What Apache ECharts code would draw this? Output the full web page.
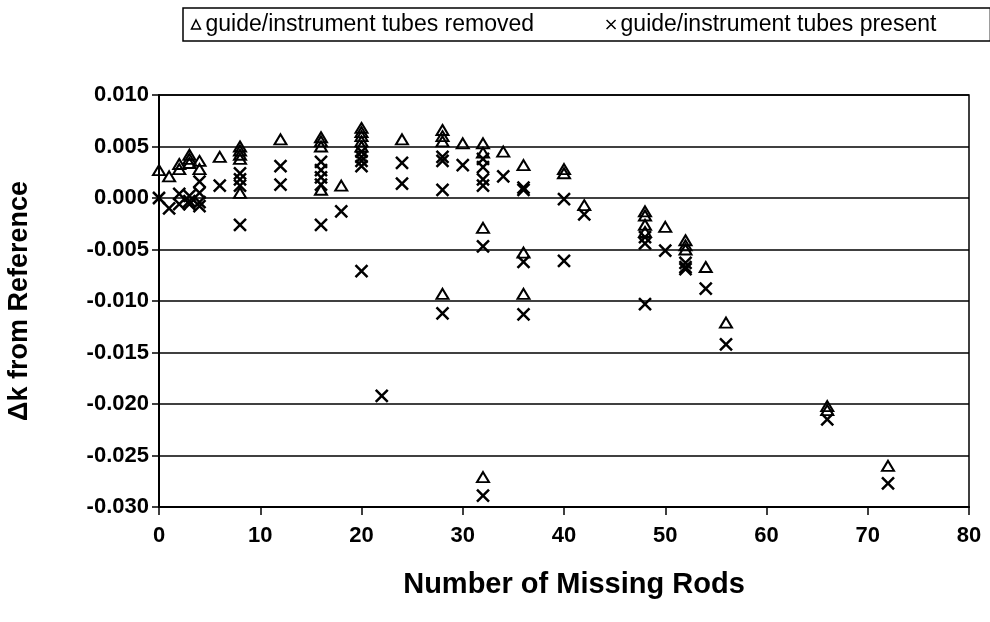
<!DOCTYPE html>
<html>
<head>
<meta charset="utf-8">
<script src="https://cdn.jsdelivr.net/npm/echarts@6/dist/echarts.min.js"></script>
<style>
  html, body { margin: 0; padding: 0; background: #fff; }
  #chart { width: 990px; height: 622px; }
</style>
</head>
<body>
<div id="chart"></div>
<script>
// guide/instrument tubes removed (triangles)
const removedRods = [0, 1, 2, 2, 3, 3, 3, 4, 4, 6,
  8, 8, 8, 8, 8, 12, 16, 16, 16, 16, 18,
  20, 20, 20, 20, 20, 24, 28, 28, 28, 28, 30,
  32, 32, 32, 32, 34, 36, 36, 36, 40, 40, 42,
  48, 48, 48, 48, 50, 52, 52, 52, 54, 56, 66, 66, 72];
const removedDk = [0.0027, 0.0021, 0.0033, 0.0028, 0.0042, 0.0038, 0.0034, 0.0036, 0.0028, 0.0040,
  0.0050, 0.0046, 0.0042, 0.0038, 0.0005, 0.0057, 0.0059, 0.0055, 0.0050, 0.0008, 0.0012,
  0.0068, 0.0064, 0.0060, 0.0055, 0.0050, 0.0057, 0.0066, 0.0060, 0.0055, -0.0093, 0.0053,
  0.0053, 0.0044, -0.0029, -0.0271, 0.0045, 0.0032, -0.0053, -0.0093, 0.0028, 0.0024, -0.0007,
  -0.0013, -0.0017, -0.0026, -0.0033, -0.0028, -0.0041, -0.0046, -0.0050, -0.0067, -0.0121, -0.0202, -0.0206, -0.0260];

// guide/instrument tubes present (crosses)
const presentRods = [0, 1, 2, 2, 3, 3, 3, 4, 4, 4, 4, 6,
  8, 8, 8, 8, 12, 12, 16, 16, 16, 16, 16, 18,
  20, 20, 20, 20, 20, 22, 24, 24, 28, 28, 28, 28, 30,
  32, 32, 32, 32, 32, 32, 34, 36, 36, 36, 36, 40, 40, 42,
  48, 48, 48, 50, 52, 52, 52, 54, 56, 66, 72];
const presentDk = [0.0000, -0.0010, 0.0004, -0.0006, 0.0002, -0.0003, -0.0006, 0.0016, 0.0005, -0.0004, -0.0008, 0.0012,
  0.0024, 0.0018, 0.0012, -0.0026, 0.0031, 0.0013, 0.0035, 0.0027, 0.0020, 0.0013, -0.0026, -0.0013,
  0.0045, 0.0040, 0.0036, 0.0031, -0.0071, -0.0192, 0.0034, 0.0014, 0.0040, 0.0036, 0.0008, -0.0112, 0.0032,
  0.0038, 0.0030, 0.0018, 0.0012, -0.0047, -0.0289, 0.0021, 0.0010, 0.0008, -0.0062, -0.0113, -0.0001, -0.0061, -0.0016,
  -0.0038, -0.0044, -0.0103, -0.0051, -0.0063, -0.0067, -0.0069, -0.0088, -0.0142, -0.0215, -0.0277];

const xTicks = [0, 10, 20, 30, 40, 50, 60, 70, 80];
const yTicks = [-0.030, -0.025, -0.020, -0.015, -0.010, -0.005, 0.000, 0.005, 0.010];

const removedData = removedRods.map((x, i) => [x, removedDk[i]]);
const presentData = presentRods.map((x, i) => [x, presentDk[i]]);

const crossPath = 'path://M0,0L10,10M10,0L0,10';
const fontFam = '"Liberation Sans", Arial, sans-serif';

const option = {
  animation: false,
  backgroundColor: '#fff',
  legend: {
    left: 183,
    top: 8,
    width: 800,
    orient: 'horizontal',
    padding: [5, 54, 5, 6],
    borderColor: '#000',
    borderWidth: 1.5,
    itemGap: 70,
    itemWidth: 9,
    itemHeight: 9,
    itemTextGap: 8,
    textStyle: { fontFamily: fontFam, fontSize: 23, color: '#000' },
    data: [
      { name: 'guide/instrument tubes removed', icon: 'triangle',
        itemStyle: { color: 'none', borderColor: '#000', borderWidth: 1.5 } },
      { name: 'guide/instrument tubes present', icon: crossPath,
        itemStyle: { color: 'none', borderColor: '#000', borderWidth: 1.5 } }
    ]
  },
  grid: {
    left: 159, right: 21, top: 95, bottom: 115,
    outerBoundsMode: 'none',
    show: true, borderColor: '#000', borderWidth: 1.5
  },
  xAxis: {
    type: 'value',
    min: xTicks[0], max: xTicks[xTicks.length - 1], interval: 10,
    name: 'Number of Missing Rods',
    nameLocation: 'middle',
    nameGap: 63,
    nameTextStyle: { fontFamily: fontFam, fontSize: 29, fontWeight: 'bold', color: '#000', padding: [0, 0, 0, 20] },
    axisLine: { onZero: false, lineStyle: { color: '#000', width: 2 } },
    axisTick: { show: true, inside: false, length: 8, lineStyle: { color: '#000', width: 1.5 } },
    axisLabel: { margin: 18, fontFamily: fontFam, fontSize: 22, fontWeight: 'bold', color: '#000' },
    splitLine: { show: false }
  },
  yAxis: {
    type: 'value',
    min: yTicks[0], max: yTicks[yTicks.length - 1], interval: 0.005,
    name: 'Δk from Reference',
    nameLocation: 'middle',
    nameGap: 126,
    nameTextStyle: { fontFamily: fontFam, fontSize: 27, fontWeight: 'bold', color: '#000' },
    axisLine: { onZero: false, lineStyle: { color: '#000', width: 2 } },
    axisTick: { show: true, inside: false, length: 7, lineStyle: { color: '#000', width: 1.5 } },
    axisLabel: {
      margin: 10, fontFamily: fontFam, fontSize: 22, fontWeight: 'bold', color: '#000',
      formatter: v => v.toFixed(3)
    },
    splitLine: { show: true, lineStyle: { color: '#000', width: 1.5 } }
  },
  series: [
    {
      name: 'guide/instrument tubes removed',
      type: 'scatter',
      data: removedData,
      symbol: 'triangle',
      symbolSize: [12, 10],
      itemStyle: { color: 'rgba(255,255,255,0)', borderColor: '#000', borderWidth: 2, opacity: 1 },
      z: 3
    },
    {
      name: 'guide/instrument tubes present',
      type: 'scatter',
      data: presentData,
      symbol: crossPath,
      symbolSize: 12,
      itemStyle: { color: 'none', borderColor: '#000', borderWidth: 2.5, opacity: 1 },
      z: 4
    }
  ]
};

const myChart = echarts.init(document.getElementById('chart'));
myChart.setOption(option);
</script>
</body>
</html>
